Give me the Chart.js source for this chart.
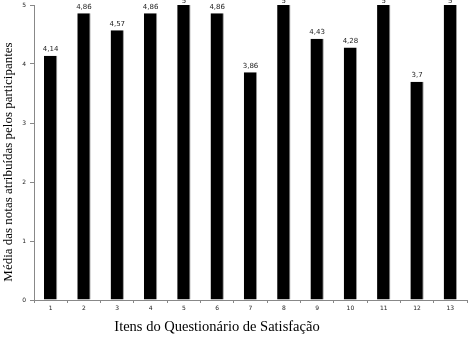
<!DOCTYPE html>
<html>
<head>
<meta charset="utf-8">
<script src="https://cdn.jsdelivr.net/npm/chart.js@4/dist/chart.umd.min.js"></script>
<style>
  html, body { margin: 0; padding: 0; background: #fff; }
  #wrap { width: 468px; height: 340px; }
</style>
</head>
<body>
<div id="wrap"><canvas id="c" width="468" height="340"></canvas></div>
<script>
  const items = ['1', '2', '3', '4', '5', '6', '7', '8', '9', '10', '11', '12', '13'];
  const means = [4.14, 4.86, 4.57, 4.86, 5, 4.86, 3.86, 5, 4.43, 4.28, 5, 3.7, 5];
  const yTicks = [0, 1, 2, 3, 4, 5];
  const xTitle = 'Itens do Questionário de Satisfação';
  const yTitle = 'Média das notas atribuídas pelos participantes';

  // value labels above each bar, comma decimals like the source;
  // both axis titles sit off-centre in the original, so they are drawn here too
  const barLabels = {
    id: 'barLabels',
    afterDatasetsDraw(chart) {
      const ctx = chart.ctx;
      const meta = chart.getDatasetMeta(0);
      ctx.save();
      ctx.font = '7px "DejaVu Sans", sans-serif';
      ctx.fillStyle = '#222';
      ctx.textAlign = 'center';
      ctx.textBaseline = 'bottom';
      meta.data.forEach((bar, i) => {
        // full-score bars touch the top edge; the label gets squeezed in there
        ctx.fillText(String(means[i]).replace('.', ','), bar.x, Math.max(bar.y - 3, 5));
      });
      ctx.font = '14.5px "Liberation Serif", serif';
      ctx.fillStyle = '#000';
      ctx.textBaseline = 'middle';
      ctx.fillText(xTitle, 217, 327);
      ctx.font = '13px "Liberation Serif", serif';
      ctx.translate(9, 162);
      ctx.rotate(-Math.PI / 2);
      ctx.fillText(yTitle, 0, 0);
      ctx.restore();
    }
  };

  new Chart(document.getElementById('c'), {
    type: 'bar',
    data: {
      labels: items,
      datasets: [{
        data: means,
        backgroundColor: '#000',
        borderColor: '#9a9a9a',
        borderWidth: { right: 1 },
        borderSkipped: 'bottom',
        barPercentage: 0.4,
        categoryPercentage: 1.0,
      }],
    },
    options: {
      responsive: false,
      animation: false,
      layout: { padding: { top: 5, right: 1, left: 0, bottom: 0 } },
      plugins: { legend: { display: false }, tooltip: { enabled: false } },
      scales: {
        x: {
          afterFit: (s) => { s.height = 40; s.paddingLeft = 0; s.paddingRight = 0; },
          border: { color: '#888', width: 1 },
          grid: { offset: true, drawOnChartArea: false, drawTicks: true, tickLength: 3, color: '#888' },
          ticks: { font: { size: 6, family: 'DejaVu Sans' }, color: '#222', padding: 2, maxRotation: 0 },
        },
        y: {
          min: 0,
          max: 5,
          afterFit: (s) => { s.width = 34; s.paddingTop = 0; s.paddingBottom = 0; },
          afterBuildTicks: (s) => { s.ticks = yTicks.map(v => ({ value: v })); },
          border: { color: '#888', width: 1 },
          grid: { drawOnChartArea: false, drawTicks: true, tickLength: 4, color: '#888' },
          ticks: { font: { size: 6, family: 'DejaVu Sans' }, color: '#222', padding: 4 },
        },
      },
    },
    plugins: [barLabels],
  });
</script>
</body>
</html>
